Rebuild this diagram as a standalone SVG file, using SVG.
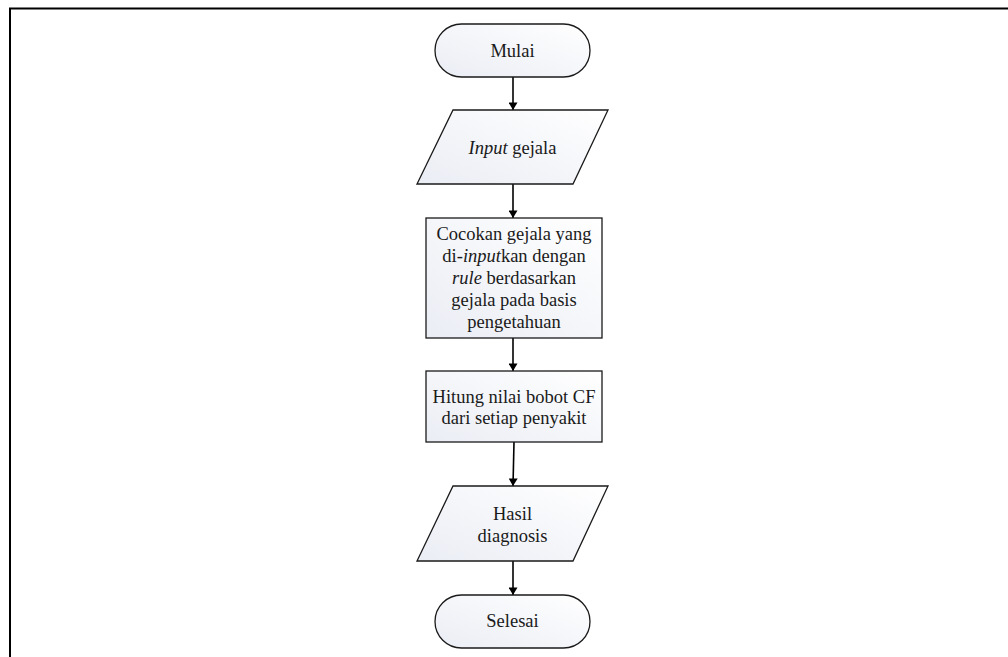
<svg xmlns="http://www.w3.org/2000/svg" width="1008" height="657" viewBox="0 0 1008 657">
  <defs>
    <linearGradient id="fill" x1="1" y1="0" x2="0" y2="1">
      <stop offset="0" stop-color="#ffffff"/>
      <stop offset="1" stop-color="#eaedf4"/>
    </linearGradient>
    <marker id="arrow" viewBox="0 0 10 12" refX="10" refY="6" markerWidth="12" markerHeight="9" markerUnits="userSpaceOnUse" orient="auto">
      <path d="M0,0 L10,6 L0,12 Z" fill="#000"/>
    </marker>
    <style>
      .shape { fill: url(#fill); stroke: #1a1a1a; stroke-width: 1.3; }
      .label { font-family: "Liberation Serif", "Times New Roman", serif; font-size: 18.5px; fill: #1a1a1a; text-anchor: middle; }
      .it { font-style: italic; }
      .link { stroke: #000; stroke-width: 1.6; fill: none; marker-end: url(#arrow); }
      .frame { stroke: #000; stroke-width: 2; fill: none; }
    </style>
  </defs>

  <rect width="1008" height="657" fill="#ffffff"/>

  <!-- page frame (top and left edges) -->
  <path class="frame" d="M10,657 V8.5 H1008"/>

  <g id="connectors">
    <line class="link" x1="513" y1="77" x2="513" y2="110"/>
    <line class="link" x1="513" y1="184" x2="513" y2="218"/>
    <line class="link" x1="513" y1="338" x2="513" y2="371"/>
    <line class="link" x1="514" y1="442" x2="513" y2="486"/>
    <line class="link" x1="513" y1="561" x2="513" y2="595"/>
  </g>

  <g id="start">
    <rect class="shape" x="435" y="24" width="155" height="53" rx="26.5" ry="26.5"/>
    <text class="label" x="512.5" y="57">Mulai</text>
  </g>

  <g id="input">
    <polygon class="shape" points="453,110 608,110 573,184 417,184"/>
    <text class="label" x="512.5" y="154"><tspan class="it">Input</tspan> gejala</text>
  </g>

  <g id="match">
    <rect class="shape" x="426" y="218" width="176" height="120"/>
    <text class="label" x="514" y="240">Cocokan gejala yang</text>
    <text class="label" x="514" y="262">di-<tspan class="it">input</tspan>kan dengan</text>
    <text class="label" x="514" y="284"><tspan class="it">rule</tspan> berdasarkan</text>
    <text class="label" x="514" y="306">gejala pada basis</text>
    <text class="label" x="514" y="328">pengetahuan</text>
  </g>

  <g id="compute">
    <rect class="shape" x="426" y="371" width="176" height="71"/>
    <text class="label" x="514" y="403">Hitung nilai bobot CF</text>
    <text class="label" x="514" y="424">dari setiap penyakit</text>
  </g>

  <g id="output">
    <polygon class="shape" points="453,486 608,486 573,561 417,561"/>
    <text class="label" x="512.5" y="520">Hasil</text>
    <text class="label" x="512.5" y="542">diagnosis</text>
  </g>

  <g id="end">
    <rect class="shape" x="435" y="595" width="155" height="53" rx="26.5" ry="26.5"/>
    <text class="label" x="512.5" y="627">Selesai</text>
  </g>
</svg>
